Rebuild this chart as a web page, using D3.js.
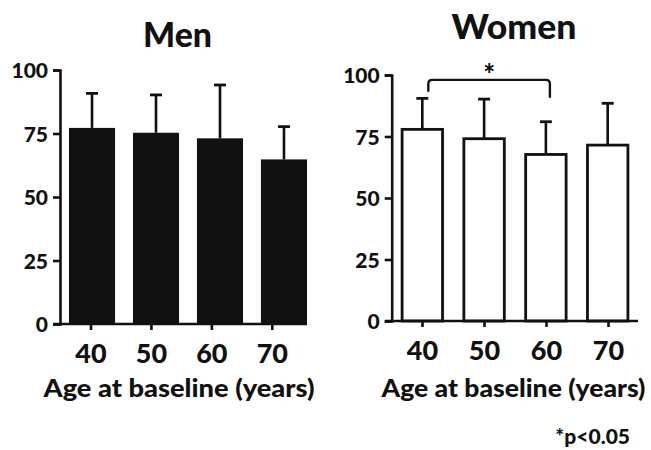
<!DOCTYPE html>
<html>
<head>
<meta charset="utf-8">
<script src="https://cdn.jsdelivr.net/npm/d3@7"></script>
<style>
  html, body { margin: 0; padding: 0; background: #fff; }
  svg { display: block; }
  text { font-family: Lato, "DejaVu Sans", sans-serif; font-weight: 900; fill: #111; }
</style>
</head>
<body>
<svg id="chart" width="651" height="450"></svg>
<script>
// ---- data ----
const ageGroups = ["40", "50", "60", "70"];
const menMeans = [77.2, 75.3, 73.1, 64.8];
const menSD = [13.6, 14.9, 21.0, 12.9];
const womenMeans = [77.9, 74.1, 67.7, 71.5];
const womenSD = [12.6, 16.1, 13.3, 17.0];
const yTicks = [0, 25, 50, 75, 100];
const panelTitles = ["Men", "Women"];
const xAxisTitle = "Age at baseline (years)";
const sigPair = ["40", "60"];
const sigLevel = 98;
const sigLegEnds = [93.2, 90.8];
const sigNote = "*p<0.05";

const svg = d3.select("#chart");
const ink = "#111";

function drawPanel(cfg) {
  const g = svg.append("g");
  const y = d3.scaleLinear().domain([0, 100]).range([cfg.y0, cfg.y100]);
  const xb = d3.scaleBand().domain(ageGroups).range(cfg.barRange).paddingInner(cfg.pad).paddingOuter(0);
  const xt = d3.scalePoint().domain(ageGroups).range(cfg.tickRange);

  // y axis
  const yAx = g.append("g").attr("transform", `translate(${cfg.axisX},0)`)
    .call(d3.axisLeft(y).tickValues(yTicks).tickSize(7).tickSizeOuter(7).tickPadding(5));
  yAx.selectAll("path, line").attr("stroke", ink).attr("stroke-width", 2.6);
  yAx.selectAll("text").style("font-size", "21px").attr("fill", ink).attr("dy", "0.36em");

  const data = ageGroups.map((k, i) => ({ k, m: cfg.means[i], sd: cfg.sd[i] }));
  const sw = cfg.filled ? 0 : 2.8;
  // error bars (upper only)
  const eb = g.append("g");
  data.forEach(d => {
    const cx = xb(d.k) + xb.bandwidth() / 2;
    eb.append("line").attr("x1", cx).attr("x2", cx)
      .attr("y1", y(d.m)).attr("y2", y(d.m + d.sd))
      .attr("stroke", ink).attr("stroke-width", 2.6);
    eb.append("line").attr("x1", cx - 6).attr("x2", cx + 6)
      .attr("y1", y(d.m + d.sd)).attr("y2", y(d.m + d.sd))
      .attr("stroke", ink).attr("stroke-width", 2.8);
  });
  // bars
  g.append("g").selectAll("rect").data(data).join("rect")
    .attr("x", d => xb(d.k) + sw / 2)
    .attr("width", xb.bandwidth() - sw)
    .attr("y", d => y(d.m))
    .attr("height", d => y(0) - y(d.m))
    .attr("fill", cfg.filled ? ink : "#fff")
    .attr("stroke", cfg.filled ? "none" : ink)
    .attr("stroke-width", sw);

  // x axis line
  g.append("line").attr("x1", cfg.xLine[0]).attr("x2", cfg.xLine[1])
    .attr("y1", y(0)).attr("y2", y(0)).attr("stroke", ink).attr("stroke-width", 2.6);
  const xAx = g.append("g").attr("transform", `translate(0,${y(0)})`)
    .call(d3.axisBottom(xt).tickSize(6).tickSizeOuter(0).tickPadding(14));
  xAx.select(".domain").remove();
  xAx.selectAll("line").attr("stroke", ink).attr("stroke-width", 2.6);
  xAx.selectAll("text").style("font-size", "27px").attr("fill", ink).attr("dy", "0.71em");

  // titles
  g.append("text").attr("x", cfg.titleX).attr("y", cfg.titleY)
    .attr("text-anchor", "middle").style("font-size", "34px")
    .attr("textLength", cfg.titleW).attr("lengthAdjust", "spacingAndGlyphs")
    .text(cfg.title);
  g.append("text").attr("x", cfg.xtX).attr("y", 397)
    .attr("text-anchor", "middle").style("font-size", "25px")
    .attr("textLength", cfg.xtW).attr("lengthAdjust", "spacingAndGlyphs")
    .text(xAxisTitle);

  return { g, y, xb };
}

drawPanel({
  y0: 324, y100: 70, axisX: 60,
  barRange: [69, 307], pad: 0.28, tickRange: [90.5, 271.8],
  xLine: [53, 307], means: menMeans, sd: menSD, filled: true,
  title: panelTitles[0], titleX: 177.5, titleY: 47, titleW: 69,
  xtX: 179, xtW: 271
});

const w = drawPanel({
  y0: 321, y100: 75, axisX: 391.7,
  barRange: [400.7, 629.3], pad: 0.3, tickRange: [422, 608],
  xLine: [385, 638], means: womenMeans, sd: womenSD, filled: false,
  title: panelTitles[1], titleX: 514, titleY: 39, titleW: 125,
  xtX: 513.5, xtW: 264
});

// significance bracket
const bx1 = w.xb(sigPair[0]) + w.xb.bandwidth() / 2 + 6;
const bx2 = w.xb(sigPair[1]) + w.xb.bandwidth() / 2 + 4;
const by = w.y(sigLevel);
const r = 4;
w.g.append("path")
  .attr("d", `M${bx1},${w.y(sigLegEnds[0])}V${by + r}Q${bx1},${by} ${bx1 + r},${by}H${bx2 - r}Q${bx2},${by} ${bx2},${by + r}V${w.y(sigLegEnds[1])}`)
  .attr("fill", "none").attr("stroke", ink).attr("stroke-width", 2.4);
w.g.append("text").attr("x", (bx1 + bx2) / 2).attr("y", by + 4)
  .attr("text-anchor", "middle").style("font-size", "28px").text("*");

svg.append("text").attr("x", 630).attr("y", 444).attr("text-anchor", "end")
  .style("font-size", "21px").text(sigNote);
</script>
</body>
</html>
